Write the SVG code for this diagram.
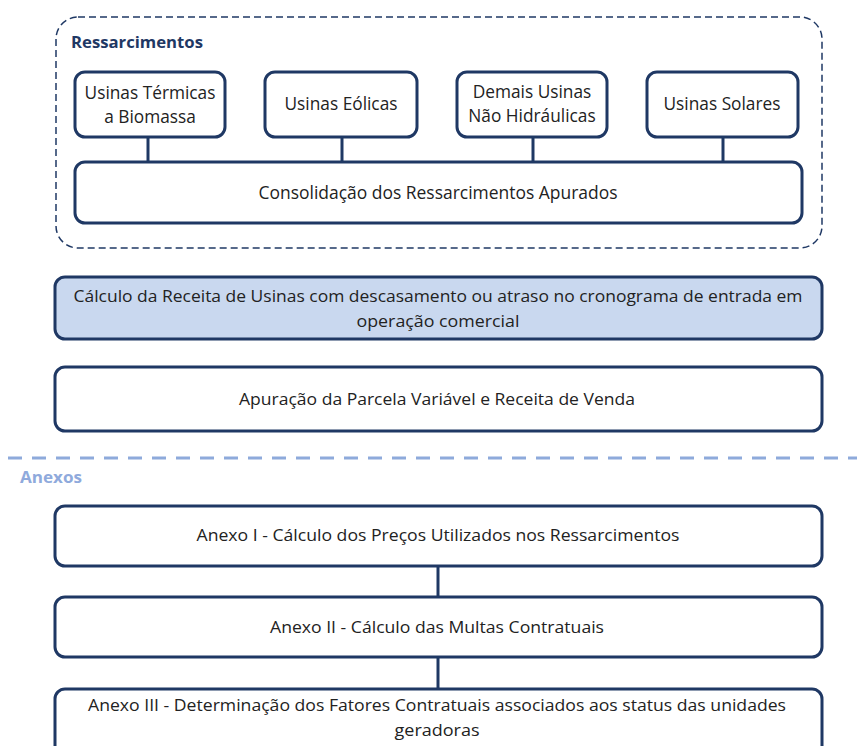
<svg xmlns="http://www.w3.org/2000/svg" width="857" height="746" viewBox="0 0 857 746">
<style>
.box{fill:#ffffff;stroke:#1f3864;stroke-width:3}
.hl{fill:#c9d8ef;stroke:#1f3864;stroke-width:3}
.t{font-family:"Open Sans","Liberation Sans",sans-serif;font-size:17.3px;fill:#222222;text-anchor:middle}
.c{font-family:"Open Sans","Liberation Sans",sans-serif;font-size:17px;fill:#222222;text-anchor:middle}
.ln{stroke:#1f3864;stroke-width:3;fill:none}
</style>
<rect width="857" height="746" fill="#ffffff"/>
<g id="container">
<rect x="56" y="17" width="766" height="231" rx="22" fill="none" stroke="#1f3864" stroke-width="1.5" stroke-dasharray="7,4"/>
<text x="71" y="48" textLength="132" lengthAdjust="spacingAndGlyphs" style="font-family:'Open Sans','Liberation Sans',sans-serif;font-size:16px;font-weight:bold;fill:#1f3864">Ressarcimentos</text>
</g>
<g id="connectors">
<line class="ln" x1="148" y1="137" x2="148" y2="162"/>
<line class="ln" x1="342" y1="137" x2="342" y2="162"/>
<line class="ln" x1="533" y1="137" x2="533" y2="162"/>
<line class="ln" x1="723" y1="137" x2="723" y2="162"/>
<line class="ln" x1="438" y1="566" x2="438" y2="597"/>
<line class="ln" x1="438" y1="657" x2="438" y2="689"/>
</g>
<g id="n1"><rect class="box" x="75" y="72" width="150" height="65" rx="10"/>
<text class="t" x="150" y="99">Usinas Térmicas</text><text class="t" x="150" y="123">a Biomassa</text></g>
<g id="n2"><rect class="box" x="265" y="72" width="152" height="65" rx="10"/>
<text class="t" x="341" y="110">Usinas Eólicas</text></g>
<g id="n3"><rect class="box" x="457" y="72" width="150" height="65" rx="10"/>
<text class="t" x="532" y="98">Demais Usinas</text><text class="t" x="532" y="122">Não Hidráulicas</text></g>
<g id="n4"><rect class="box" x="647" y="72" width="151" height="65" rx="10"/>
<text class="t" x="722" y="110">Usinas Solares</text></g>
<g id="n5"><rect class="box" x="75" y="162" width="727" height="61" rx="10"/>
<text class="t" x="438" y="199" textLength="359" lengthAdjust="spacingAndGlyphs">Consolidação dos Ressarcimentos Apurados</text></g>
<g id="n6"><rect class="hl" x="55" y="277" width="767" height="62" rx="10"/>
<text class="c" x="438" y="302" textLength="729" lengthAdjust="spacingAndGlyphs">Cálculo da Receita de Usinas com descasamento ou atraso no cronograma de entrada em</text>
<text class="c" x="438" y="327" textLength="163" lengthAdjust="spacingAndGlyphs">operação comercial</text></g>
<g id="n7"><rect class="box" x="55" y="367" width="767" height="64" rx="10"/>
<text class="c" x="437" y="405" textLength="396" lengthAdjust="spacingAndGlyphs">Apuração da Parcela Variável e Receita de Venda</text></g>
<g id="separator">
<line x1="8" y1="458" x2="857" y2="458" stroke="#8eaadb" stroke-width="3" stroke-dasharray="14,10"/>
<text x="20" y="483" textLength="62" lengthAdjust="spacingAndGlyphs" style="font-family:'Open Sans','Liberation Sans',sans-serif;font-size:16px;font-weight:bold;fill:#8faadc">Anexos</text>
</g>
<g id="n8"><rect class="box" x="55" y="506" width="767" height="60" rx="10"/>
<text class="c" x="438" y="541" textLength="483" lengthAdjust="spacingAndGlyphs">Anexo I - Cálculo dos Preços Utilizados nos Ressarcimentos</text></g>
<g id="n9"><rect class="box" x="55" y="597" width="767" height="60" rx="10"/>
<text class="c" x="437" y="633" textLength="334" lengthAdjust="spacingAndGlyphs">Anexo II - Cálculo das Multas Contratuais</text></g>
<g id="n10"><rect class="box" x="55" y="689" width="767" height="70" rx="10"/>
<text class="c" x="437" y="711" font-size="16" textLength="698" lengthAdjust="spacingAndGlyphs">Anexo III - Determinação dos Fatores Contratuais associados aos status das unidades</text>
<text class="c" x="437" y="736" font-size="16" textLength="85" lengthAdjust="spacingAndGlyphs">geradoras</text></g>
</svg>
